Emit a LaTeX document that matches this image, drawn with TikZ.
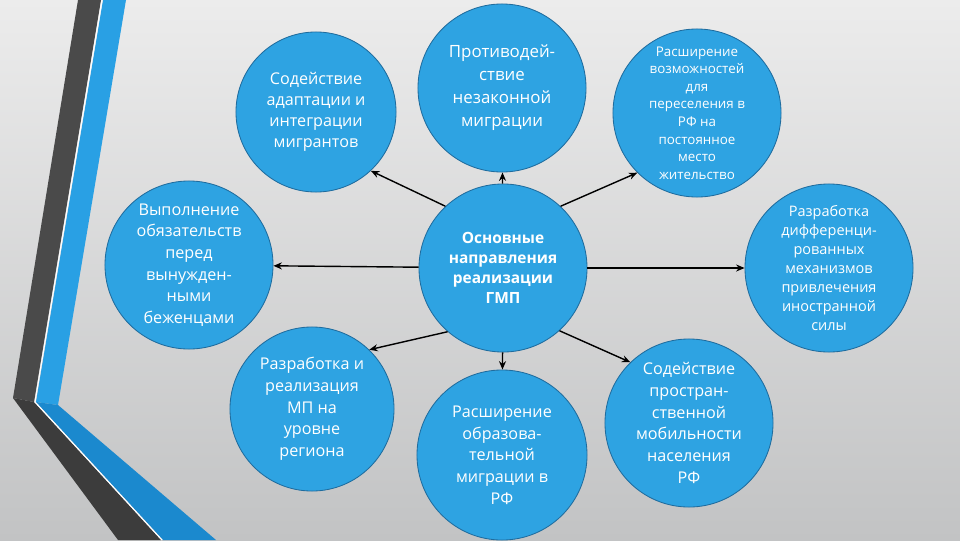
\documentclass[tikz,border=0pt]{standalone}
\usepackage{fontspec}
\setmainfont{Open Sans}
\usetikzlibrary{arrows.meta}
\definecolor{bubblefill}{RGB}{46,163,226}
\definecolor{bubbleedge}{RGB}{31,108,158}
\definecolor{bandgrey}{RGB}{74,74,74}
\definecolor{bandgreylow}{RGB}{60,60,60}
\definecolor{bandblue}{RGB}{41,160,228}
\definecolor{bandbluelow}{RGB}{27,137,206}
\definecolor{bgtop}{RGB}{236,236,236}
\definecolor{bgbottom}{RGB}{194,195,196}

\tikzset{
  bubble/.style={circle, draw=bubbleedge, line width=0.6pt, fill=bubblefill, text=white,
    align=center, inner sep=0pt, minimum size=4.2cm, font=\fontsize{11.5}{15.4}\selectfont},
  link/.style={line width=1pt, -{Stealth[length=6pt,width=5pt]}}
}

\begin{document}
\begin{tikzpicture}[x=0.025cm, y=-0.025cm]
		\useasboundingbox (0,0) rectangle (960,540);
		\shade [top color=bgtop, bottom color=bgbottom] (0,0) rectangle (960,540);
		
		% left folded bands
		\fill [bandgrey] (78,0) -- (101,0) -- (34,402) -- (13,398) -- cycle;
		\fill [bandgreylow] (13,398) -- (34,402) -- (161,540) -- (118,540) -- cycle;
		\fill [bandblue] (103,0) -- (126,0) -- (58,405) -- (36,402) -- cycle;
		\fill [bandbluelow] (36,402) -- (58,405) -- (216,540) -- (163,540) -- cycle;
		\draw [white, line width=0.8pt] (102,0) -- (35,402) -- (162,540);
		
		\node (hub) [bubble, font=\bfseries\fontsize{11}{14.2}\selectfont] at (503,268) {Основные\\ направления\\ реализации\\ ГМП};
		
		\node (adapt) [bubble, minimum size=4cm, font=\fontsize{11.5}{15}\selectfont] at (316,112) {Содействие\\ адаптации и\\ интеграции\\ мигрантов};
		
		\node (counter) [bubble, font=\fontsize{12}{16.3}\selectfont] at (502,88) {Противодей-\\ ствие\\ незаконной\\ миграции};
		
		\node (resettle) [bubble, font=\fontsize{9.5}{12.5}\selectfont] at (697,113) {Расширение\\ возможностей\\ для\\ переселения в\\ РФ на\\ постоянное\\ место\\ жительство};
		
		\node (refugee) [bubble] at (189,265) {Выполнение\\ обязательств\\ перед\\ вынужден-\\ ными\\ беженцами};
		
		\node (labour) [bubble, font=\fontsize{10.3}{13.5}\selectfont] at (829,268) {Разработка\\ дифференци-\\ рованных\\ механизмов\\ привлечения\\ иностранной\\ силы};
		
		\node (region) [bubble, minimum size=4.1cm] at (312,409) {Разработка и\\ реализация\\ МП на\\ уровне\\ региона};
		
		\node (edu) [bubble, minimum size=4.25cm] at (502,455) {Расширение\\ образова-\\ тельной\\ миграции в\\ РФ};
		
		\node (mobility) [bubble] at (689,423) {Содействие\\ простран-\\ ственной\\ мобильности\\ населения\\ РФ};
		
		\draw [link] (hub.133) to (adapt.-47);
		\draw [link] (hub) to (counter);
		\draw [link] (hub.47) to (resettle.-135);
		\draw [link] (hub) to (labour);
		\draw [link] (hub) to (refugee);
		\draw [link] (hub.-131) to (region.46);
		\draw [link] (hub) to (edu);
		\draw [link] (hub.-48) to (mobility.134);
		
\end{tikzpicture}
\end{document}
